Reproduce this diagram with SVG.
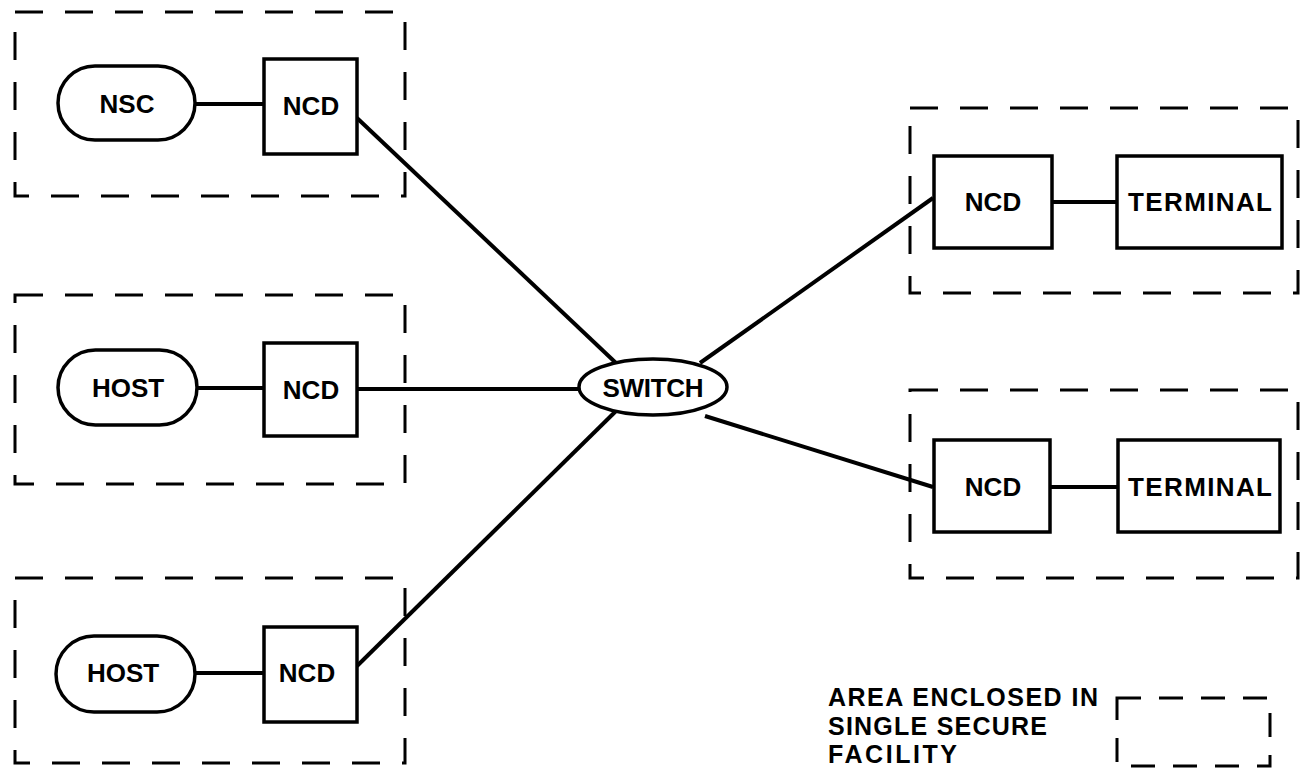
<svg xmlns="http://www.w3.org/2000/svg" width="1301" height="772" viewBox="0 0 1301 772">
<style>
.area{fill:none;stroke:#000;stroke-width:3;stroke-dasharray:28 22}
.box{fill:#fff;stroke:#000;stroke-width:3.5}
.lbl{font-family:"Liberation Sans",Arial,sans-serif;font-weight:bold;font-size:26px;fill:#000;text-anchor:middle;dominant-baseline:central}
.leg{font-family:"Liberation Sans",Arial,sans-serif;font-weight:bold;font-size:25px;fill:#000}
.conn{stroke:#000;stroke-width:4;fill:none}
</style>
<rect width="1301" height="772" fill="#fff"/>
<g id="areas">
<rect id="area1" class="area" x="15" y="12" width="390" height="184"/>
<rect id="area2" class="area" x="15" y="295" width="390" height="189"/>
<rect id="area3" class="area" x="15" y="578" width="390" height="185"/>
<rect id="area4" class="area" x="910" y="108" width="388" height="185"/>
<rect id="area5" class="area" x="910" y="390" width="388" height="188"/>
</g>
<g id="connectors">
<line class="conn" x1="195" y1="104" x2="264" y2="104"/>
<line class="conn" x1="197" y1="388" x2="264" y2="388"/>
<line class="conn" x1="195" y1="673" x2="264" y2="673"/>
<line class="conn" x1="357" y1="118" x2="616" y2="363"/>
<line class="conn" x1="357" y1="389" x2="580" y2="389"/>
<line class="conn" x1="357" y1="666" x2="616" y2="411"/>
<line class="conn" x1="700" y1="363" x2="933" y2="198"/>
<line class="conn" x1="705" y1="416" x2="933" y2="487"/>
<line class="conn" x1="1052" y1="202" x2="1117" y2="202"/>
<line class="conn" x1="1050" y1="487" x2="1118" y2="487"/>
</g>
<g id="nsc"><rect class="box" x="58" y="66" width="137" height="74" rx="37"/><text class="lbl" x="127" y="104">NSC</text></g>
<g id="ncd1"><rect class="box" x="264" y="59" width="93" height="95"/><text class="lbl" x="311" y="106">NCD</text></g>
<g id="host1"><rect class="box" x="58" y="350" width="139" height="75" rx="37.5"/><text class="lbl" x="128" y="388">HOST</text></g>
<g id="ncd2"><rect class="box" x="264" y="343" width="93" height="93"/><text class="lbl" x="311" y="390">NCD</text></g>
<g id="host2"><rect class="box" x="56" y="636" width="139" height="76" rx="38"/><text class="lbl" x="123" y="673">HOST</text></g>
<g id="ncd3"><rect class="box" x="264" y="627" width="93" height="95"/><text class="lbl" x="307" y="673">NCD</text></g>
<g id="switch"><ellipse class="box" cx="653" cy="387" rx="74" ry="28"/><text class="lbl" x="653" y="388" textLength="101" lengthAdjust="spacing">SWITCH</text></g>
<g id="ncd4"><rect class="box" x="934" y="156" width="118" height="92"/><text class="lbl" x="993" y="202">NCD</text></g>
<g id="terminal1"><rect class="box" x="1117" y="156" width="165" height="92"/><text class="lbl" x="1200" y="202" textLength="144" lengthAdjust="spacing">TERMINAL</text></g>
<g id="ncd5"><rect class="box" x="934" y="440" width="116" height="92"/><text class="lbl" x="993" y="487">NCD</text></g>
<g id="terminal2"><rect class="box" x="1118" y="440" width="162" height="92"/><text class="lbl" x="1200" y="487" textLength="144" lengthAdjust="spacing">TERMINAL</text></g>
<g id="legend">
<text class="leg" x="828" y="706" textLength="270" lengthAdjust="spacing">AREA ENCLOSED IN</text>
<text class="leg" x="828" y="735" textLength="219" lengthAdjust="spacing">SINGLE SECURE</text>
<text class="leg" x="828" y="763" textLength="129" lengthAdjust="spacing">FACILITY</text>
<rect class="area" x="1117" y="698" width="153" height="68" style="stroke-dasharray:24 18"/>
</g>
</svg>
